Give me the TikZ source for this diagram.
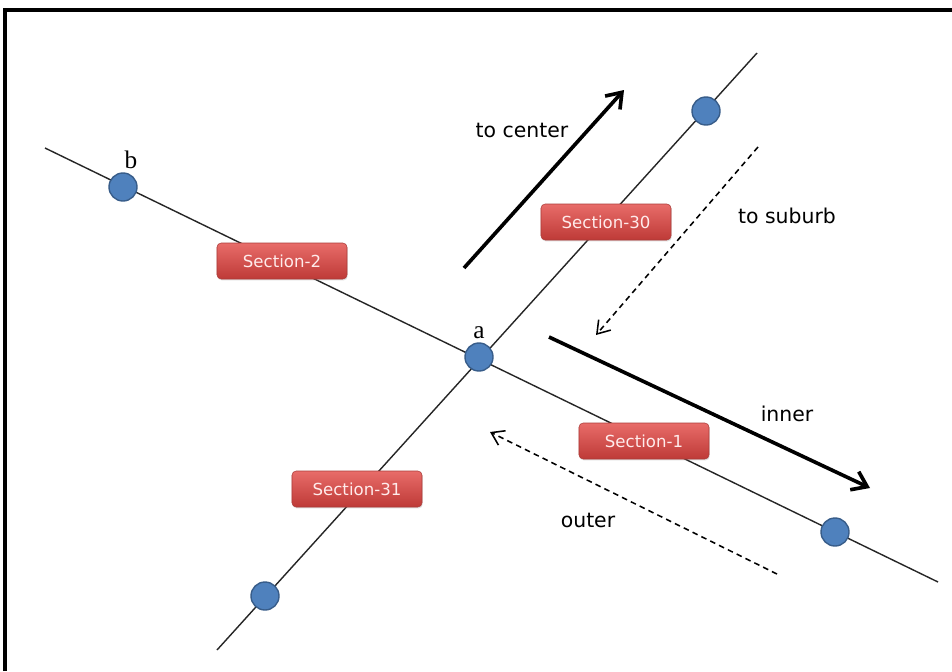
\documentclass[tikz,border=0pt]{standalone}
\usepackage{fontspec}
\setmainfont{Liberation Serif}
\setsansfont{DejaVu Sans}
\usetikzlibrary{arrows.meta,positioning,shadows}

\definecolor{stopblue}{RGB}{79,129,189}
\definecolor{stopedge}{RGB}{56,93,138}
\definecolor{secttop}{RGB}{232,108,105}
\definecolor{sectbot}{RGB}{190,58,55}
\definecolor{sectedge}{RGB}{170,60,57}

\tikzset{
  stop/.style={circle, fill=stopblue, draw=stopedge, line width=1pt, minimum size=0.7cm, inner sep=0pt},
  section/.style={rectangle, rounded corners=3pt, top color=secttop, bottom color=sectbot, draw=sectedge,
    line width=0.4pt, minimum width=3.25cm, minimum height=0.9cm, text=white!92!red,
    font=\sffamily\fontsize{11.8}{13}\selectfont, drop shadow={shadow xshift=0.5pt, shadow yshift=-1pt, opacity=0.25}},
  road/.style={line width=1pt, black!85},
  flow/.style={line width=2.6pt, -{Straight Barb[length=3.5mm,width=5mm]}},
  backflow/.style={line width=1.1pt, dashed, dash pattern=on 4pt off 3pt, -{Straight Barb[length=3mm,width=4mm]}},
  lbl/.style={font=\sffamily\fontsize{14.5}{17}\selectfont}
}

\begin{document}
\begin{tikzpicture}[x=0.025cm, y=-0.025cm]
  \useasboundingbox (0,0) rectangle (952,671);
  \fill[white] (0,0) rectangle (952,671);

  % frame
  \draw[line width=2.4pt] (5,671) -- (5,10) -- (952,10);

  % road ends
  \coordinate (west) at (45,148);
  \coordinate (east) at (938,582);
  \coordinate (south) at (217,650);
  \coordinate (north) at (757,53);

  % roads
  \draw[road] (west) -- (east);
  \draw[road] (south) -- (north);

  % stops
  \node[stop] (a) at (479,357) {};
  \node[stop] (b) at (123,187) {};
  \node[stop] (se) at (835,532) {};
  \node[stop] (sw) at (265,596) {};
  \node[stop] (ne) at (706,111) {};
  \node[above=-1pt of a, font=\fontsize{18}{20}\selectfont] (alab) {a};
  \node[above=-1pt of b, xshift=0.2cm, font=\fontsize{18}{20}\selectfont] (blab) {b};

  % sections
  \node[section] (s2) at (282,261) {Section-2};
  \node[section] (s30) at (606,222) {Section-30};
  \node[section] (s1) at (644,441) {Section-1};
  \node[section] (s31) at (357,489) {Section-31};

  % directions
  \coordinate (c0) at (464,268);
  \coordinate (c1) at (624,90);
  \coordinate (u0) at (758,147);
  \coordinate (u1) at (596,335);
  \coordinate (i0) at (549,337);
  \coordinate (i1) at (870,488);
  \coordinate (o0) at (777,574);
  \coordinate (o1) at (490,432);
  \draw[flow] (c0) -- (c1);
  \draw[backflow] (u0) -- (u1);
  \draw[flow] (i0) -- (i1);
  \draw[backflow] (o0) -- (o1);

  \node[lbl] (tocenter) at (522,130) {to center};
  \node[lbl] (tosuburb) at (787,216) {to suburb};
  \node[lbl] (inner) at (787,414) {inner};
  \node[lbl] (outer) at (588,520) {outer};
\end{tikzpicture}
\end{document}
